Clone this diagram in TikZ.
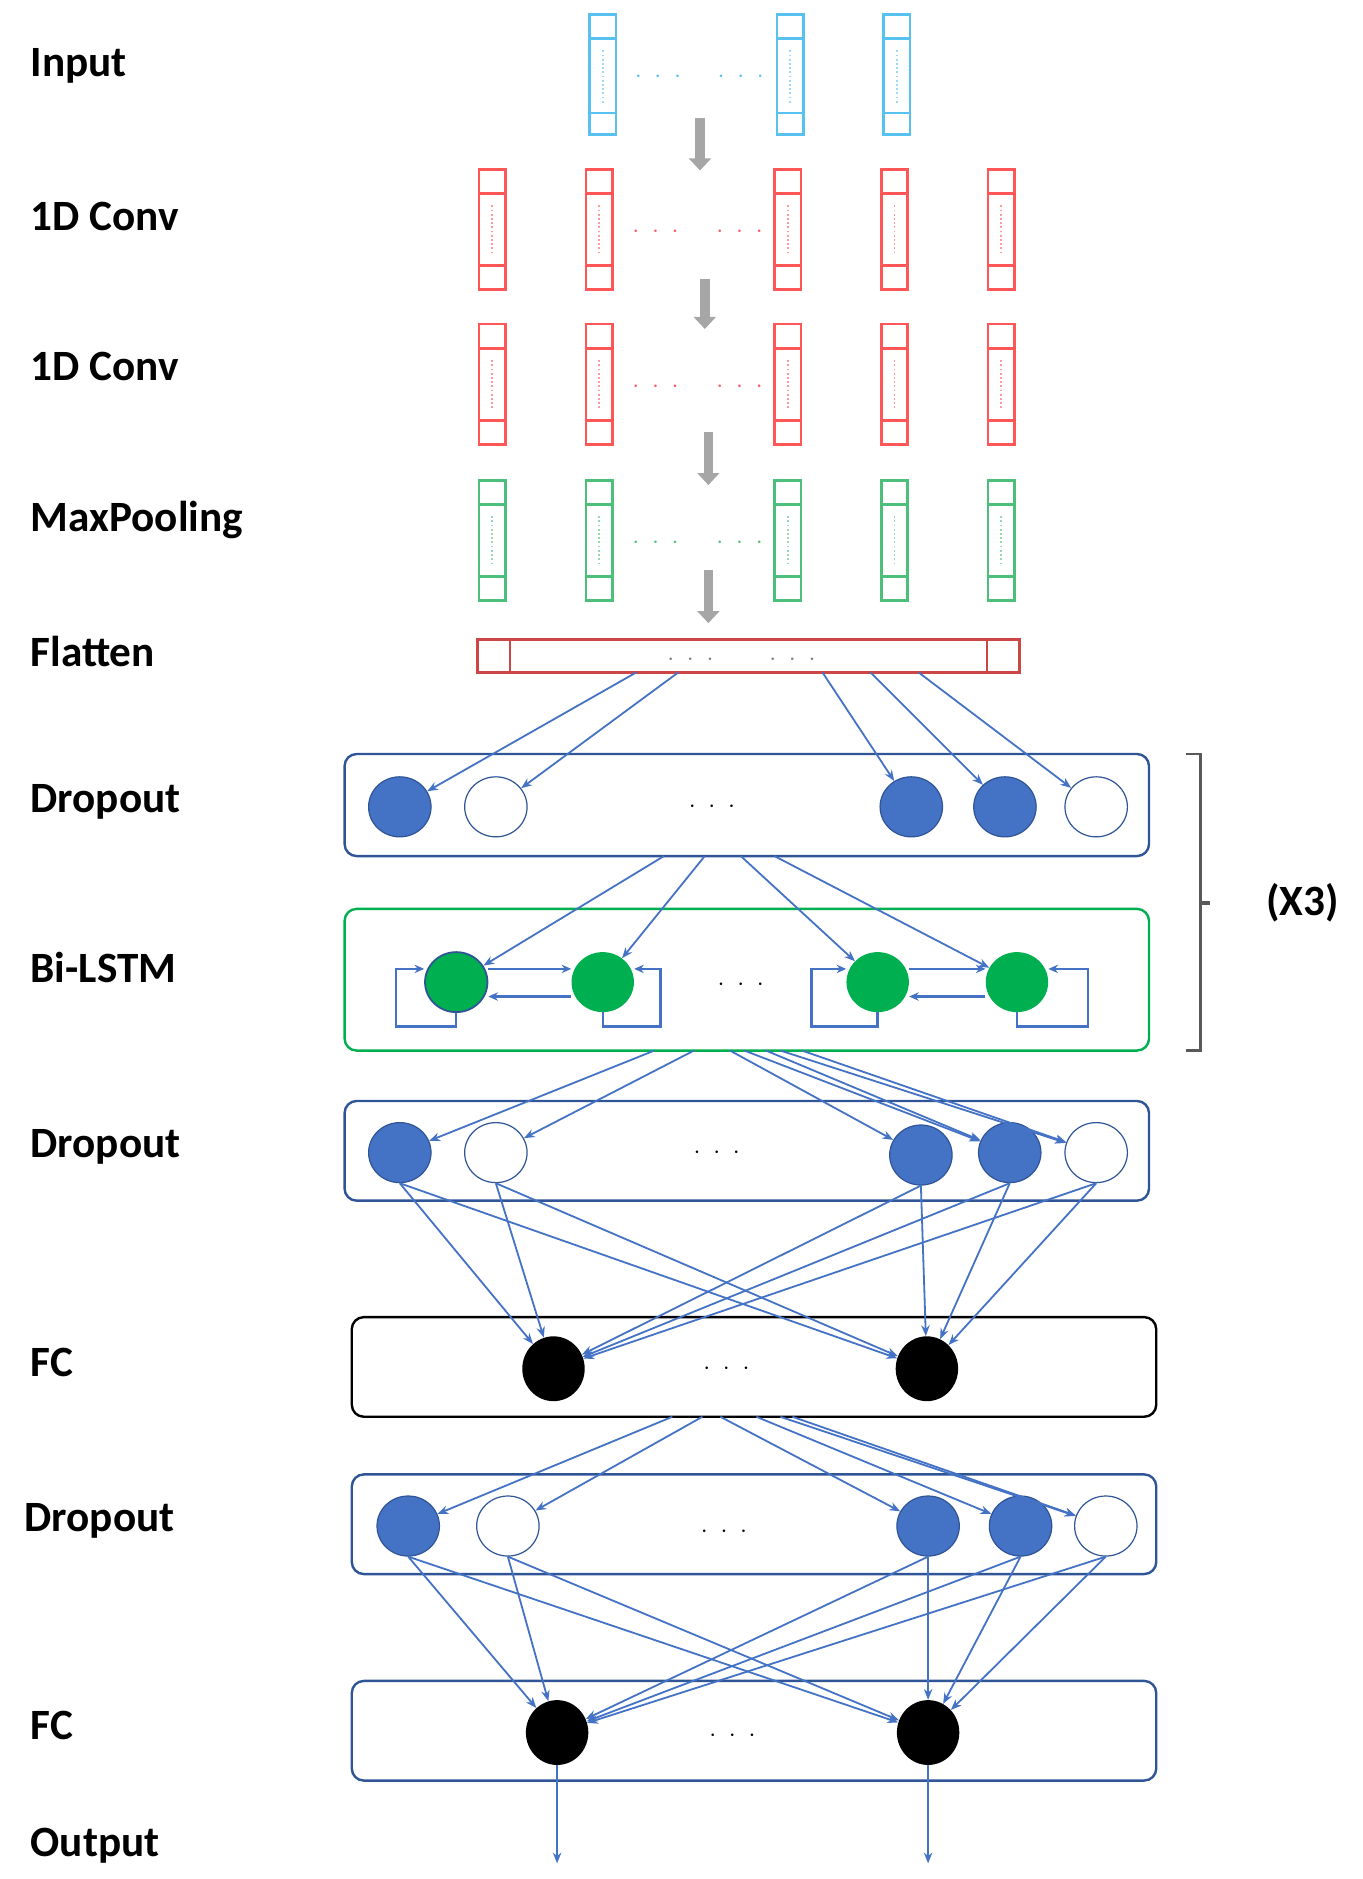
\documentclass[tikz,border=0pt]{standalone}
\usepackage{fontspec}
\setmainfont{Carlito}
\usetikzlibrary{shapes.geometric,arrows.meta}
\definecolor{cb}{HTML}{57C2F0}
\definecolor{cr}{HTML}{FF5757}
\definecolor{cg}{HTML}{4CC07A}
\definecolor{nb}{HTML}{4472C4}
\definecolor{db}{HTML}{2F5597}
\definecolor{lg}{HTML}{00B050}
\definecolor{ga}{HTML}{A6A6A6}
\begin{document}
\begin{tikzpicture}[x=1pt,y=-1pt,
  lab/.style={anchor=west,font=\fontsize{36}{40}\selectfont\bfseries},
  vec/.style={draw=#1,line width=2.2pt,minimum width=22,minimum height=100,inner sep=0,rectangle},
  box/.style={draw=#1,line width=2pt,rounded corners=10,rectangle,inner sep=0},
  fb/.style={ellipse,draw=db,fill=nb,line width=1pt,minimum width=52,minimum height=50,inner sep=0},
  fe/.style={ellipse,draw=db,fill=white,line width=1pt,minimum width=52,minimum height=50,inner sep=0},
  fg/.style={ellipse,fill=lg,minimum width=52,minimum height=50,inner sep=0},
  fk/.style={ellipse,fill=black,minimum width=52,minimum height=54,inner sep=0},
  ar/.style={draw=nb,line width=1.5pt,-{Stealth[length=9pt,width=7pt]}},
  gar/.style={draw=ga,line width=8pt,-{Triangle[length=10pt,width=18pt]}},
  dots/.style={font=\fontsize{22}{24}\selectfont,text=#1}
]
\useasboundingbox (0,0) rectangle (1135,1565);
\newcommand{\ddd}{$\cdot\hspace{6pt}\cdot\hspace{6pt}\cdot$}
% labels
\node[lab] (l1) at (22,55) {Input};
\node[lab] (l2) at (22,180) {1D Conv};
\node[lab] (l3) at (22,305) {1D Conv};
\node[lab] (l4) at (22,433) {MaxPooling};
\node[lab] (l5) at (22,543) {Flatten};
\node[lab] (l6) at (22,668) {Dropout};
\node[lab] (l7) at (22,806) {Bi-LSTM};
\node[lab] (l8) at (22,955) {Dropout};
\node[lab] (l9) at (22,1135) {FC};
\node[lab] (l10) at (17,1267) {Dropout};
\node[lab] (l11) at (22,1437) {FC};
\node[lab] (l12) at (22,1537) {Output};
% vectors
\foreach \x/\n in {502/a,658/b,747/c}{
  \node[vec=cb] (in\n) at (\x,62) {};
  \draw[cb,line width=2.2pt] (\x-11,32)--(\x+11,32) (\x-11,94)--(\x+11,94);
  \draw[cb!60,line width=1.5pt,dotted] (\x,42)--(\x,86);
}
\node[dots=cb] (ind1) at (548,64) {\ddd};
\node[dots=cb] (ind2) at (617,64) {\ddd};
\foreach \y/\c/\r in {191/cr/c1,320/cr/c2,450/cg/mp}{
  \foreach \x/\n in {410/a,499/b,656/c,745/d,834/e}{
    \node[vec=\c] (\r\n) at (\x,\y) {};
    \draw[\c,line width=2.2pt] (\x-11,\y-30)--(\x+11,\y-30) (\x-11,\y+30)--(\x+11,\y+30);
    \draw[\c!60,line width=1.5pt,dotted] (\x,\y-20)--(\x,\y+20);
  }
  \node[dots=\c] (\r d1) at (546,\y+2) {\ddd};
  \node[dots=\c] (\r d2) at (616,\y+2) {\ddd};
}
% gray arrows
\coordinate (g1a) at (583,98); \coordinate (g1b) at (583,142);
\coordinate (g2a) at (587,232); \coordinate (g2b) at (587,274);
\coordinate (g3a) at (590,360); \coordinate (g3b) at (590,404);
\coordinate (g4a) at (590,475); \coordinate (g4b) at (590,519);
\foreach \i in {1,2,3,4}{\draw[gar] (g\i a)--(g\i b);}
% flatten
\node[draw=cr!80!black,line width=2.5pt,minimum width=451,minimum height=27,inner sep=0] (fl) at (623.5,546.5) {};
\draw[cr!80!black,line width=2pt] (425,533)--(425,560) (822,533)--(822,560);
\node[dots=gray] (fld1) at (575,550) {\ddd};
\node[dots=gray] (fld2) at (660,550) {\ddd};
% dropout 1
\node[box=db,minimum width=670,minimum height=85] (D1) at (622,670.5) {};
\node[fb] (d1a) at (333,672) {}; \node[fe] (d1b) at (413,672) {};
\node[fb] (d1c) at (759,672) {}; \node[fb] (d1d) at (837,672) {};
\node[fe] (d1e) at (913,672) {};
\node[dots=black] (d1dots) at (593,672) {\ddd};
\foreach \x/\t in {530/d1a,565/d1b,685/d1c,725/d1d,765/d1e}{\draw[ar] (\x,560)--(\t);}
% bi-lstm
\node[box=lg,minimum width=670,minimum height=118] (L) at (622,816) {};
\node[fg,draw=db,line width=1.5pt] (la) at (380,818) {}; \node[fg] (lb) at (502,818) {};
\node[fg] (lc) at (731,818) {}; \node[fg] (ld) at (847,818) {};
\node[dots=black] (ldots) at (617,820) {\ddd};
\foreach \x/\t in {553/la,587/lb,617/lc,645/ld}{\draw[ar] (\x,713)--(\t);}
\tikzset{lp/.style={draw=nb,line width=2pt,-{Stealth[length=8pt,width=7pt]}}}
\draw[lp] (la.south) |- (330,855) |- (la.west|-0,807);
\draw[lp] (lb.south) |- (550,855) |- (lb.east|-0,807);
\draw[lp] (lc.south) |- (676,855) |- (lc.west|-0,807);
\draw[lp] (ld.south) |- (906,855) |- (ld.east|-0,807);
\draw[lp] (la.east|-0,807) -- (lb.west|-0,807);
\draw[lp] (lb.west|-0,830) -- (la.east|-0,830);
\draw[lp] (lc.east|-0,807) -- (ld.west|-0,807);
\draw[lp] (ld.west|-0,830) -- (lc.east|-0,830);
% brace
\coordinate (b1) at (988,628); \coordinate (b2) at (1000,628);
\coordinate (b3) at (1000,875); \coordinate (b4) at (988,875);
\coordinate (bm) at (1000,752); \coordinate (bm2) at (1008,752);
\draw[gray!70!black,line width=2pt] (b1)--(b2)--(b3)--(b4);
\draw[gray!70!black,line width=3pt] (bm)--(bm2);
\node[lab,anchor=center] (x3) at (1085,752) {(X3)};
% dropout 2
\node[box=db,minimum width=670,minimum height=83] (D2) at (622,958.5) {};
\node[fb] (d2a) at (333,960) {}; \node[fe] (d2b) at (413,960) {};
\node[fb] (d2c) at (767,962) {}; \node[fb] (d2d) at (841,960) {};
\node[fe] (d2e) at (913,960) {};
\node[dots=black] (d2dots) at (597,960) {\ddd};
\foreach \x/\t in {545/d2a,578/d2b,608/d2c,638/d2d,668/d2e,620/d2d,650/d2e}{\draw[ar] (\x,875)--(\t);}
% fc 1
\node[box=black,minimum width=670,minimum height=83] (F1) at (628,1138.5) {};
\node[fk] (f1a) at (461,1140) {}; \node[fk] (f1b) at (772,1140) {};
\node[dots=black] (f1dots) at (605,1140) {\ddd};
\foreach \s in {d2a,d2b,d2c,d2d,d2e}{\draw[ar] (\s.south)--(f1a); \draw[ar] (\s.south)--(f1b);}
% dropout 3
\node[box=db,minimum width=670,minimum height=83] (D3) at (628,1269.5) {};
\node[fb] (d3a) at (340,1271) {}; \node[fe] (d3b) at (423,1271) {};
\node[fb] (d3c) at (773,1271) {}; \node[fb] (d3d) at (850,1271) {};
\node[fe] (d3e) at (921,1271) {};
\node[dots=black] (d3dots) at (603,1276) {\ddd};
\foreach \x/\t in {560/d3a,585/d3b,600/d3c,630/d3d,660/d3e,650/d3e}{\draw[ar] (\x,1180)--(\t);}
% fc 2
\node[box=db,minimum width=670,minimum height=83] (F2) at (628,1441.5) {};
\node[fk] (f2a) at (464,1443) {}; \node[fk] (f2b) at (773,1443) {};
\node[dots=black] (f2dots) at (610,1446) {\ddd};
\foreach \s in {d3a,d3b,d3c,d3d,d3e}{\draw[ar] (\s.south)--(f2a); \draw[ar] (\s.south)--(f2b);}
\coordinate (o1) at (464,1552); \coordinate (o2) at (773,1552);
\draw[ar] (f2a)--(o1); \draw[ar] (f2b)--(o2);
\end{tikzpicture}
\end{document}
